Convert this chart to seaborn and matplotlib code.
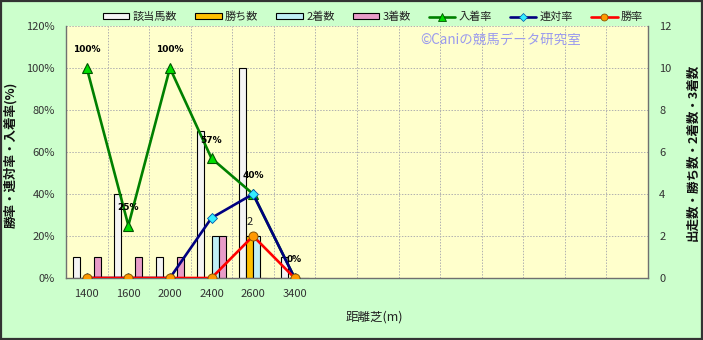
import numpy as np
import pandas as pd
import matplotlib
matplotlib.use("Agg")
import matplotlib.pyplot as plt
from matplotlib.patches import Patch, Rectangle
from matplotlib.lines import Line2D
import seaborn as sns

# ---- data ----
categories = ['1400', '1600', '2000', '2400', '2600', '3400']
n_slots = 14  # total category slots on the x axis (last ones empty)
runs = [1, 4, 1, 7, 10, 1]          # 該当馬数
wins = [0, 0, 0, 0, 2, 0]           # 勝ち数
seconds = [0, 0, 0, 2, 2, 0]        # 2着数
thirds = [1, 1, 1, 2, 0, 0]         # 3着数
place_rate = [100, 25, 100, 57, 40, 0]       # 入着率
rentai_rate = [0, 0, 0, 28.6, 40, 0]         # 連対率
win_rate = [0, 0, 0, 0, 20, 0]               # 勝率
place_labels = ['100%', '25%', '100%', '57%', '40%', '0%']

bar_names = ['該当馬数', '勝ち数', '2着数', '3着数']
bar_colors = ['#F4F4F4', '#FFC000', '#BFEFF5', '#E89CC8']
line_names = ['入着率', '連対率', '勝率']

sns.set_theme(style="white")
plt.rcParams['font.family'] = ['Noto Sans CJK JP', 'DejaVu Sans']

fig = plt.figure(figsize=(7.03, 3.40), dpi=100, facecolor='#CCFFCC')
ax_bar = fig.add_axes([66 / 703, 1 - 278 / 340, 582 / 703, 252 / 340])
ax_bar.set_facecolor('#FFFFCC')

df_bar = pd.DataFrame({
    'dist': categories * 4,
    'series': sum([[n] * len(categories) for n in bar_names], []),
    'count': runs + wins + seconds + thirds,
})
sns.barplot(data=df_bar, x='dist', y='count', hue='series', order=categories,
            hue_order=bar_names, palette=bar_colors, width=0.68, gap=0,
            edgecolor='black', linewidth=0.8, saturation=1, legend=False,
            ax=ax_bar, zorder=2)

ax_line = ax_bar.twinx()
ax_bar.yaxis.tick_right()
ax_bar.yaxis.set_label_position('right')
ax_line.yaxis.tick_left()
ax_line.yaxis.set_label_position('left')

df_line = pd.DataFrame({'dist': categories, 'place': place_rate,
                        'rentai': rentai_rate, 'win': win_rate})
sns.pointplot(data=df_line, x='dist', y='place', order=categories, ax=ax_line,
              color='#008000', marker='^', markersize=7.5, markerfacecolor='#00DD00',
              markeredgecolor='#005500', markeredgewidth=0.8, linewidth=1.9,
              errorbar=None)
sns.pointplot(data=df_line, x='dist', y='rentai', order=categories, ax=ax_line,
              color='#000080', marker='D', markersize=5, markerfacecolor='#33EEFF',
              markeredgecolor='#0055AA', markeredgewidth=0.6, linewidth=1.9,
              errorbar=None)
sns.pointplot(data=df_line, x='dist', y='win', order=categories, ax=ax_line,
              color='#FF0000', marker='o', markersize=6.5, markerfacecolor='#FF9900',
              markeredgecolor='#885500', markeredgewidth=0.7, linewidth=1.9,
              errorbar=None)

# data labels
for i, lab in enumerate(place_labels):
    ax_line.annotate(lab, (i, place_rate[i]), xytext=(0, 13), textcoords='offset points',
                     ha='center', va='center', fontsize=6.5, fontweight='bold',
                     color='black', family=['DejaVu Sans'])
for i, w in enumerate(wins):
    if w > 0:
        ax_bar.annotate(str(w), (i - 0.085, w), xytext=(0, 10), textcoords='offset points',
                        ha='center', va='center', fontsize=8, color='#222222')

# axes limits/ticks
ax_bar.set_xlim(-0.5, n_slots - 0.5)
ax_bar.set_ylim(0, 12)
ax_line.set_ylim(0, 120)
ax_bar.set_xticks(range(len(categories)))
ax_bar.set_xticklabels(categories)
ax_bar.set_xticks(np.arange(0.5, n_slots - 0.5, 1), minor=True)
ax_bar.set_yticks(range(0, 13, 2))
ax_line.set_yticks(range(0, 121, 20))
ax_line.set_yticklabels([f'{v}%' for v in range(0, 121, 20)])

tick_col = '#333333'
ax_bar.tick_params(axis='x', which='both', length=0, pad=8, labelsize=8, labelcolor=tick_col)
ax_bar.tick_params(axis='y', length=0, pad=8, labelsize=8, labelcolor=tick_col)
ax_line.tick_params(axis='y', length=0, pad=8, labelsize=8, labelcolor=tick_col)

ax_bar.grid(False)
ax_line.grid(False)
ax_bar.xaxis.grid(True, which='minor', linestyle=(0, (1.5, 1.5)), color='#B0B0B0', linewidth=0.7)
ax_bar.yaxis.grid(True, which='major', linestyle=(0, (1.5, 1.5)), color='#B0B0B0', linewidth=0.7)
ax_bar.set_axisbelow(True)

for sp in ['left', 'bottom', 'right']:
    ax_bar.spines[sp].set_visible(True)
    ax_bar.spines[sp].set_color('#707070')
    ax_bar.spines[sp].set_linewidth(1.0)
ax_bar.spines['top'].set_visible(False)
for sp in ax_line.spines.values():
    sp.set_visible(False)

ax_bar.set_xlabel('')
ax_line.set_xlabel('')
ax_line.set_ylabel('勝率・連対率・入着率(%)', fontsize=9, fontweight='bold', color='#111111')
ax_line.yaxis.set_label_coords(-0.083, 0.49)
ax_bar.set_ylabel('出走数・勝ち数・2着数・3着数', fontsize=9, fontweight='bold',
                  color='#111111', rotation=90)
ax_bar.yaxis.set_label_coords(1.066, 0.5)

fig.text(374 / 703, 1 - 317 / 340, '距離芝(m)', ha='center', va='center',
         fontsize=9, color='#222222')

# watermark
ax_line.text(501 / 703, 1 - 40 / 340, '©Caniの競馬データ研究室', transform=fig.transFigure,
             ha='center', va='center', fontsize=9.7, color='#9A9AEE')

# legend
handles = [Patch(facecolor=c, edgecolor='black', linewidth=0.8) for c in bar_colors]
handles += [
    Line2D([], [], color='#008000', lw=1.9, marker='^', markersize=5.5,
           markerfacecolor='#00DD00', markeredgecolor='#005500', markeredgewidth=0.6),
    Line2D([], [], color='#000080', lw=1.9, marker='D', markersize=4,
           markerfacecolor='#33EEFF', markeredgecolor='#0055AA', markeredgewidth=0.5),
    Line2D([], [], color='#FF0000', lw=1.9, marker='o', markersize=5,
           markerfacecolor='#FF9900', markeredgecolor='#885500', markeredgewidth=0.6),
]
fig.legend(handles, bar_names + line_names, loc='center', ncol=7,
           bbox_to_anchor=(373 / 703, 1 - 17 / 340), frameon=False, fontsize=8,
           handlelength=2.4, handleheight=0.45, handletextpad=0.3, columnspacing=1.6,
           labelcolor='#222222')

# figure border
fig.patches.append(Rectangle((0.001, 0.002), 0.997, 0.995, transform=fig.transFigure,
                             fill=False, edgecolor='#333333', linewidth=1.6))

fig.savefig('out.png', dpi=100, facecolor=fig.get_facecolor())
